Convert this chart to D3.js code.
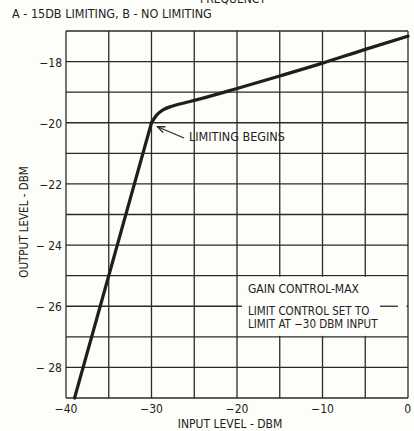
<!DOCTYPE html>
<html><head><meta charset="utf-8">
<script src="https://cdn.jsdelivr.net/npm/d3@7"></script>
<style>
html,body{margin:0;padding:0;background:#fdfdf9;}
svg{display:block;}
text{font-family:"DejaVu Sans Condensed","Liberation Sans Narrow","Liberation Sans",sans-serif;fill:#222;}
</style></head>
<body>
<script>
// ---- data ----
const inputLevel = [-39, -36.4, -33.5, -30, -29.4, -28.6, -27.5, -26, -25, -20, -15, -10, -5, 0];
const outputLevel = [-29, -26.4, -23.5, -20, -19.75, -19.57, -19.45, -19.34, -19.27, -18.88, -18.47, -18.05, -17.6, -17.17];
const kneeInput = -30;
const xTicks = [-40, -30, -20, -10, 0];
const xTickLabels = ["\u221240", "\u221230", "\u221220", "\u221210", "0"];
const yTicks = [-28, -26, -24, -22, -20, -18];
const yTickLabels = ["\u2212 28", "\u2212 26", "\u2212 24", "\u221222", "\u221220", "\u221218"];
const xGrid = d3.range(-40, 1, 5);
const yGrid = d3.range(-29, -16, 1);
const titleText = "A - 15DB LIMITING, B - NO LIMITING";
const cutTitle = "FREQUENCY";
const xLabel = "INPUT LEVEL - DBM";
const yLabel = "OUTPUT LEVEL - DBM";
const annotation = "LIMITING BEGINS";
const noteLines = ["GAIN CONTROL-MAX", "LIMIT CONTROL SET TO", "LIMIT AT  \u221230 DBM INPUT"];

const W = 414, H = 431;
const svg = d3.select("body").append("svg").attr("width", W).attr("height", H);
const x = d3.scaleLinear().domain([-40, 0]).range([66, 408]);
const y = d3.scaleLinear().domain([-29, -17]).range([398, 31]);
const ink = "#2b2b26";

// header
svg.append("text").attr("x", 200).attr("y", 3).attr("font-size", 12).text(cutTitle);
svg.append("text").attr("x", 12).attr("y", 18).attr("font-size", 12.5).text(titleText);

// grid
const g = svg.append("g");
g.selectAll(".vg").data(xGrid).join("line")
  .attr("x1", d => x(d)).attr("x2", d => x(d)).attr("y1", y(-29)).attr("y2", y(-17))
  .attr("stroke", ink).attr("stroke-width", 1.3);
g.selectAll(".hg").data(yGrid).join("line")
  .attr("y1", d => y(d)).attr("y2", d => y(d)).attr("x1", x(-40)).attr("x2", x(0))
  .attr("stroke", ink).attr("stroke-width", 1.3);

// note box (covers grid)
svg.append("rect").attr("x", x(-20) + 1.5).attr("y", y(-25) + 1).attr("width", x(0) - x(-20) - 3)
  .attr("height", y(-27) - y(-25) - 2).attr("fill", "#fdfdf9");
svg.append("line").attr("x1", x(-20)).attr("x2", x(-20) + 5).attr("y1", y(-26)).attr("y2", y(-26))
  .attr("stroke", ink).attr("stroke-width", 1.3);
svg.append("line").attr("x1", 380).attr("x2", 398).attr("y1", y(-26)).attr("y2", y(-26))
  .attr("stroke", ink).attr("stroke-width", 1.3);
svg.append("text").attr("x", 248).attr("y", 293).attr("font-size", 12).text(noteLines[0]);
svg.append("text").attr("x", 248).attr("y", 315).attr("font-size", 11.5).text(noteLines[1]);
svg.append("text").attr("x", 248).attr("y", 328).attr("font-size", 11.5).text(noteLines[2]);

// axes labels
svg.selectAll(".yt").data(yTicks).join("text")
  .attr("x", 62).attr("y", d => y(d) + 5).attr("text-anchor", "end").attr("font-size", 12)
  .text((d, i) => yTickLabels[i]);
svg.selectAll(".xt").data(xTicks).join("text")
  .attr("x", d => x(d)).attr("y", 413).attr("text-anchor", d => d === 0 ? "end" : "middle")
  .attr("dx", d => d === 0 ? 3 : 0).attr("font-size", 12)
  .text((d, i) => xTickLabels[i]);
svg.append("text").attr("x", 230).attr("y", 428).attr("text-anchor", "middle").attr("font-size", 12).text(xLabel);
svg.append("text").attr("transform", "translate(28,222) rotate(-90)").attr("text-anchor", "middle")
  .attr("font-size", 11.5).text(yLabel);

// curve: straight below the knee, smooth limiting above it
const pts = inputLevel.map((v, i) => [v, outputLevel[i]]);
const lower = pts.filter(d => d[0] <= kneeInput);
const upper = pts.filter(d => d[0] >= kneeInput);
const lineLin = d3.line().x(d => x(d[0])).y(d => y(d[1]));
const lineSmooth = d3.line().x(d => x(d[0])).y(d => y(d[1])).curve(d3.curveMonotoneX);
[lineLin(lower), lineSmooth(upper)].forEach(p =>
  svg.append("path").attr("d", p).attr("fill", "none").attr("stroke", "#231c1c")
    .attr("stroke-width", 3.2).attr("stroke-linecap", "round").attr("stroke-linejoin", "round"));

// annotation arrow
const ax0 = x(-30) + 6, ay0 = y(-20) + 4, ax1 = 184, ay1 = 138;
svg.append("line").attr("x1", ax1).attr("y1", ay1).attr("x2", ax0).attr("y2", ay0)
  .attr("stroke", ink).attr("stroke-width", 1.3);
const ang = Math.atan2(ay1 - ay0, ax1 - ax0);
const hl = 8, ha = 0.4;
svg.append("path").attr("d",
  `M${ax0 + hl * Math.cos(ang - ha)},${ay0 + hl * Math.sin(ang - ha)} L${ax0},${ay0} L${ax0 + hl * Math.cos(ang + ha)},${ay0 + hl * Math.sin(ang + ha)}`)
  .attr("fill", "none").attr("stroke", ink).attr("stroke-width", 1.3);
svg.append("text").attr("x", 189).attr("y", 141).attr("font-size", 12.5).text(annotation);
</script>
</body></html>
